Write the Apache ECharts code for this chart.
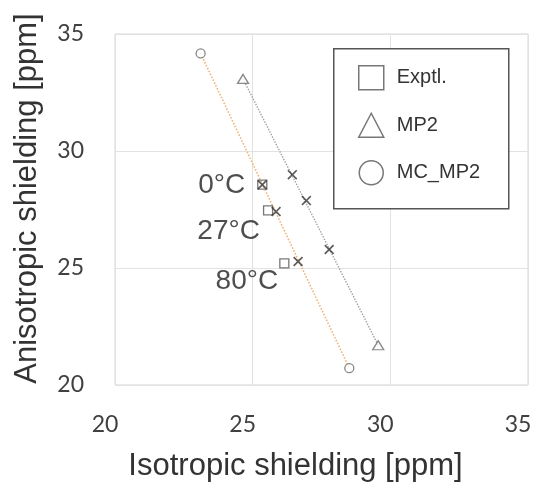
<!DOCTYPE html>
<html>
<head>
<meta charset="utf-8">
<script src="https://cdn.jsdelivr.net/npm/echarts@6/dist/echarts.min.js"></script>
<style>
html,body{margin:0;padding:0;background:#fff;}
#c{width:543px;height:487px;}
</style>
</head>
<body>
<div id="c"></div>
<script>
// ---- data ----
const axisTicks = [20, 25, 30, 35];
const exptIso = [25.35, 25.56, 26.15];
const exptAniso = [28.56, 27.46, 25.20];
const tempLabels = ['0°C', '27°C', '80°C'];
const mp2Iso = [24.65, 29.56];
const mp2Aniso = [33.08, 21.70];
const mcIso = [23.11, 28.51];
const mcAniso = [34.17, 20.72];
const mp2TempIso = [26.44, 26.95, 27.78];
const mp2TempAniso = [28.99, 27.88, 25.79];
const mcTempIso = [25.35, 25.85, 26.65];
const mcTempAniso = [28.56, 27.41, 25.28];
const legendNames = ['Exptl.', 'MP2', 'MC_MP2'];

// ---- styles ----
const labelOffsets = [[-12, 1], [-3, 21], [-1, 18]];
const crossPath = 'path://M0,1.2L1.2,0L5,3.8L8.8,0L10,1.2L6.2,5L10,8.8L8.8,10L5,6.2L1.2,10L0,8.8L3.8,5Z';

function pairs(xs, ys) { return xs.map((x, i) => [x, ys[i]]); }

const chart = echarts.init(document.getElementById('c'), null, {renderer: 'canvas'});
const hollow = {color: '#fff', borderColor: '#6a6a6a', borderWidth: 1.3};
const legendItem = {color: '#fff', borderColor: '#555', borderWidth: 1.5};

const option = {
  backgroundColor: '#fff',
  animation: false,
  grid: {left: 115, top: 34, right: 15, bottom: 101, show: true, borderColor: '#d6d6d6', borderWidth: 1},
  xAxis: {
    type: 'value', min: axisTicks[0], max: axisTicks[axisTicks.length - 1], interval: 5,
    name: 'Isotropic shielding [ppm]', nameLocation: 'middle', nameGap: 66,
    nameTextStyle: {fontFamily: 'Liberation Sans', fontSize: 31, color: '#333', padding: [0, 52, 0, 0]},
    axisLine: {show: false}, axisTick: {show: false},
    axisLabel: {fontFamily: 'Lato', fontSize: 23, color: '#404040', margin: 28, padding: [0, 20, 0, 0]},
    splitLine: {lineStyle: {color: '#e2e2e2', width: 1}}
  },
  yAxis: {
    type: 'value', min: axisTicks[0], max: axisTicks[axisTicks.length - 1], interval: 5,
    name: 'Anisotropic shielding [ppm]', nameLocation: 'middle', nameGap: 72,
    nameTextStyle: {fontFamily: 'Liberation Sans', fontSize: 31, color: '#333', padding: [0, 0, 0, 22]},
    axisLine: {show: false}, axisTick: {show: false},
    axisLabel: {fontFamily: 'Lato', fontSize: 23, color: '#404040', margin: 31},
    splitLine: {lineStyle: {color: '#e2e2e2', width: 1}}
  },
  legend: {
    orient: 'vertical', left: 358, top: 65, padding: 0, itemWidth: 25, itemHeight: 24, itemGap: 22,
    z: 10,
    textStyle: {fontFamily: 'Liberation Sans', fontSize: 20, color: '#333', padding: [0, 0, 0, 8]},
    data: [
      {name: legendNames[0], icon: 'rect', itemStyle: legendItem},
      {name: legendNames[1], icon: 'triangle', itemStyle: legendItem},
      {name: legendNames[2], icon: 'circle', itemStyle: legendItem}
    ]
  },
  graphic: [{
    type: 'rect', z: 5, left: 333, top: 48,
    shape: {width: 175, height: 160},
    style: {fill: '#fff', stroke: '#555', lineWidth: 1.5}
  }],
  series: [
    {type: 'line', name: 'mcLine', data: pairs(mcIso, mcAniso), symbol: 'none', z: 2,
     lineStyle: {color: '#efb57c', type: 'dotted', width: 1.6}},
    {type: 'line', name: 'mp2Line', data: pairs(mp2Iso, mp2Aniso), symbol: 'none', z: 2,
     lineStyle: {color: '#a0a0a0', type: 'dotted', width: 1.4}},
    {type: 'scatter', name: legendNames[0], symbol: 'rect', symbolSize: 9, z: 3,
     itemStyle: {color: 'rgba(255,255,255,0)', borderColor: '#555', borderWidth: 1.3},
     data: pairs(exptIso, exptAniso).map((p, i) => ({
       value: p,
       label: {show: true, formatter: tempLabels[i], position: 'left', distance: 0,
               offset: labelOffsets[i], fontFamily: 'Liberation Sans', fontSize: 28, color: '#222'}
     }))},
    {type: 'scatter', name: legendNames[1], symbol: 'triangle', symbolSize: [11, 9], z: 3,
     itemStyle: hollow, data: pairs(mp2Iso, mp2Aniso)},
    {type: 'scatter', name: legendNames[2], symbol: 'circle', symbolSize: 9, z: 3,
     itemStyle: hollow, data: pairs(mcIso, mcAniso)},
    {type: 'scatter', name: 'mp2T', symbol: crossPath, symbolSize: 10, z: 4,
     itemStyle: {color: '#333'}, data: pairs(mp2TempIso, mp2TempAniso)},
    {type: 'scatter', name: 'mcT', symbol: crossPath, symbolSize: 10, z: 4,
     itemStyle: {color: '#333'}, data: pairs(mcTempIso, mcTempAniso)}
  ]
};
chart.setOption(option);
</script>
</body>
</html>
